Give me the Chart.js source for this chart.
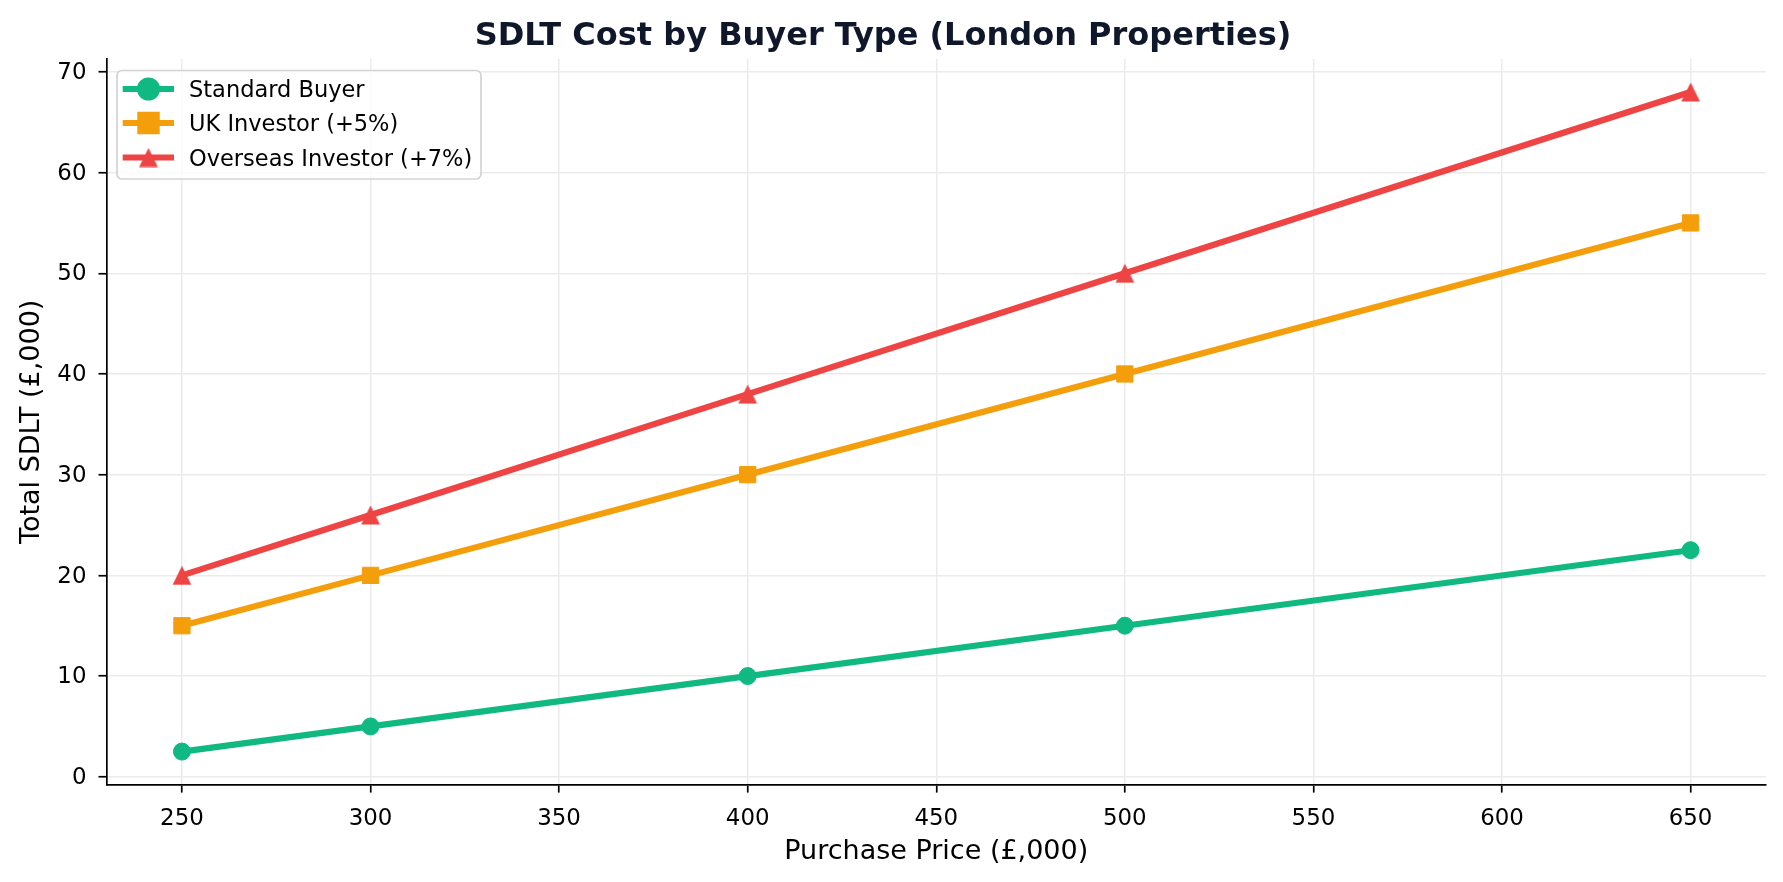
<!DOCTYPE html>
<html>
<head>
<meta charset="utf-8">
<script src="https://cdn.jsdelivr.net/npm/chart.js@4.4.1/dist/chart.umd.min.js"></script>
<style>
  html, body { margin: 0; padding: 0; background: #ffffff; }
  #c { display: block; }
</style>
</head>
<body>
<canvas id="c" width="1783" height="882"></canvas>
<script>
// ---- data ----
const purchasePrices = [250, 300, 400, 500, 650];
const standardBuyer = [2.5, 5, 10, 15, 22.5];
const ukInvestor = [15, 20, 30, 40, 55];
const overseasInvestor = [20, 26, 38, 50, 68];
const seriesLabels = ['Standard Buyer', 'UK Investor (+5%)', 'Overseas Investor (+7%)'];
const xTickValues = [250, 300, 350, 400, 450, 500, 550, 600, 650];
const yTickValues = [0, 10, 20, 30, 40, 50, 60, 70];
const chartTitle = 'SDLT Cost by Buyer Type (London Properties)';
const xAxisTitle = 'Purchase Price (£,000)';
const yAxisTitle = 'Total SDLT (£,000)';

// ---- styles ----
const GREEN = '#10b981', ORANGE = '#f59e0b', RED = '#ef4444';
const FONT = "'DejaVu Sans', 'Liberation Sans', sans-serif";

function makeTriangle(color) {
  const c = document.createElement('canvas');
  c.width = 20; c.height = 20;
  const g = c.getContext('2d');
  g.fillStyle = color;
  g.beginPath();
  g.moveTo(10, 0.6);
  g.lineTo(19.4, 19.4);
  g.lineTo(0.6, 19.4);
  g.closePath();
  g.fill();
  return c;
}
const triangleStyle = makeTriangle(RED);

function toPoints(xs, ys) { return xs.map((x, i) => ({ x: x, y: ys[i] })); }

const datasets = [
  { label: seriesLabels[0], data: toPoints(purchasePrices, standardBuyer), borderColor: GREEN, backgroundColor: GREEN,
    pointStyle: 'circle', pointRadius: 8.5, pointBorderWidth: 1, pointBorderColor: GREEN, pointBackgroundColor: GREEN },
  { label: seriesLabels[1], data: toPoints(purchasePrices, ukInvestor), borderColor: ORANGE, backgroundColor: ORANGE,
    pointStyle: 'rect', pointRadius: 11.5, pointBorderWidth: 1, pointBorderColor: ORANGE, pointBackgroundColor: ORANGE },
  { label: seriesLabels[2], data: toPoints(purchasePrices, overseasInvestor), borderColor: RED, backgroundColor: RED,
    pointStyle: triangleStyle, pointRadius: 10, pointBorderWidth: 0, pointBorderColor: RED, pointBackgroundColor: RED }
];
datasets.forEach(d => { d.borderWidth = 6.2; d.tension = 0; d.fill = false; d.clip = false; });

// custom in-plot legend (matplotlib style, upper left)
const insideLegend = {
  id: 'insideLegend',
  afterDatasetsDraw(chart) {
    const ctx = chart.ctx;
    const box = { x: 117, y: 70.5, w: 364, h: 108.5, r: 5 };
    ctx.save();
    ctx.beginPath();
    if (ctx.roundRect) ctx.roundRect(box.x, box.y, box.w, box.h, box.r); else ctx.rect(box.x, box.y, box.w, box.h);
    ctx.fillStyle = 'rgba(255,255,255,0.85)';
    ctx.fill();
    ctx.lineWidth = 1.7;
    ctx.strokeStyle = '#d3d3d3';
    ctx.stroke();
    const rowY = [89.0, 123.0, 157.5];
    chart.data.datasets.forEach((ds, i) => {
      const cy = rowY[i];
      ctx.strokeStyle = ds.borderColor;
      ctx.lineWidth = ds.borderWidth;
      ctx.lineCap = 'butt';
      ctx.beginPath();
      ctx.moveTo(122.7, cy);
      ctx.lineTo(174, cy);
      ctx.stroke();
      ctx.fillStyle = ds.pointBackgroundColor;
      ctx.strokeStyle = ds.pointBorderColor;
      Chart.helpers.drawPoint(ctx, { pointStyle: ds.pointStyle, rotation: 0, radius: ds.pointRadius, borderWidth: ds.pointBorderWidth }, 148.5, cy);
      ctx.fillStyle = '#000000';
      ctx.font = '22.5px ' + FONT;
      ctx.textAlign = 'left';
      ctx.textBaseline = 'alphabetic';
      ctx.fillText(ds.label, 189, cy + 8.3);
    });
    ctx.restore();
  }
};

const tickFont = { family: FONT, size: 22.9 };
const titleFont = { family: FONT, size: 27 };

new Chart(document.getElementById('c'), {
  type: 'line',
  data: { datasets: datasets },
  options: {
    responsive: false,
    animation: false,
    devicePixelRatio: 1,
    layout: { padding: { left: 0, right: 17, top: 0, bottom: 0 } },
    plugins: {
      legend: { display: false },
      tooltip: { enabled: false },
      title: {
        display: true, text: chartTitle, color: '#0f172a',
        font: { family: FONT, size: 32, weight: 'bold' },
        padding: { top: 17.3, bottom: 3.3 }
      }
    },
    scales: {
      x: {
        type: 'linear', min: 230, max: 670,
        afterBuildTicks: (s) => { s.ticks = xTickValues.map(v => ({ value: v })); },
        afterFit: (s) => { s.height = 97.4; },
        ticks: { font: tickFont, color: '#000000', padding: 12.5, maxRotation: 0, autoSkip: false,
                 callback: (v) => String(v) },
        grid: { color: '#ebebeb', lineWidth: 1.5, drawTicks: true, tickLength: 8, tickColor: '#000000', tickWidth: 1.7 },
        border: { display: true, color: '#000000', width: 1.7 },
        title: { display: true, text: xAxisTitle, color: '#000000', font: titleFont, padding: { top: 0, bottom: 14 } }
      },
      y: {
        type: 'linear', min: -0.775, max: 71.275,
        afterBuildTicks: (s) => { s.ticks = yTickValues.map(v => ({ value: v })); },
        afterFit: (s) => { s.width = 106.5; },
        ticks: { font: tickFont, color: '#000000', padding: 12, labelOffset: 1.2, autoSkip: false, callback: (v) => String(v) },
        grid: { color: '#ebebeb', lineWidth: 1.5, drawTicks: true, tickLength: 8, tickColor: '#000000', tickWidth: 1.7 },
        border: { display: true, color: '#000000', width: 1.7 },
        title: { display: true, text: yAxisTitle, color: '#000000', font: titleFont, padding: { top: 15.5, bottom: 0 } }
      }
    }
  },
  plugins: [insideLegend]
});
</script>
</body>
</html>
